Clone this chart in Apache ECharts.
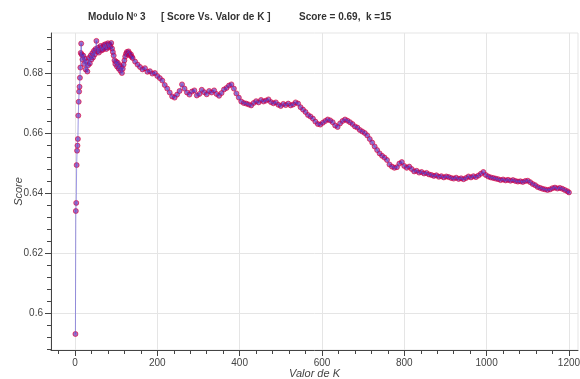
<!DOCTYPE html>
<html><head><meta charset="utf-8">
<script src="https://cdn.jsdelivr.net/npm/echarts@6/dist/echarts.min.js"></script>
<style>html,body{margin:0;padding:0;background:#fff}#c{width:580px;height:379px}</style>
</head><body><div id="c"></div>
<script>
const kValues = [1,2,3,4,5,6,7,8,9,10,11,12,13,14,15,
16,18,20,22,24,26,28,30,32,34,36,38,40,42,44,46,48,50,52,54,56,58,60,62,64,66,68,70,72,74,76,78,80,82,84,86,88,90,92,94,96,98,100,
102,104,106,108,110,112,114,116,118,120,122,124,126,128,130,132,134,136,138,140,
146,152,158,164,170,176,182,188,194,200,206,212,218,224,230,236,242,248,254,260,266,272,278,284,290,296,
302,308,314,320,326,332,338,344,350,356,362,368,374,380,386,392,398,404,410,416,422,428,434,440,446,452,458,464,470,476,482,488,494,
500,506,512,518,524,530,536,542,548,554,560,566,572,578,584,590,596,602,608,614,620,626,632,638,644,650,656,662,668,674,680,686,692,698,
704,710,716,722,728,734,740,746,752,758,764,770,776,782,788,794,800,806,812,818,824,830,836,842,848,854,860,866,872,878,884,890,896,
902,908,914,920,926,932,938,944,950,956,962,968,974,980,986,992,998,1004,1010,1016,1022,1028,1034,1040,1046,1052,1058,1064,1070,1076,
1082,1088,1094,1100,1106,1112,1118,1124,1130,1136,1142,1148,1154,1160,1166,1172,1178,1184,1190,1196,1200];
const scores = [0.593,0.634,0.6367,0.6493,0.6541,0.6558,0.658,0.6658,0.6704,0.6738,0.6754,0.6784,0.6818,0.6867,0.6898,
0.6862,0.6845,0.6858,0.6830,0.6848,0.6812,0.6838,0.6805,0.6826,0.6850,0.6832,0.6858,0.6845,0.6866,0.6852,0.6874,0.6862,0.6880,0.6907,0.6872,0.6884,0.6868,0.6879,0.6890,0.6875,0.6886,0.6878,0.6893,0.6884,0.6896,0.6880,0.6892,0.6899,0.6885,0.6895,0.6889,0.6900,0.6882,0.6870,0.6858,0.6842,0.6830,0.6838,
0.6822,0.6834,0.6815,0.6826,0.6808,0.6820,0.6800,0.6814,0.6828,0.6842,0.6855,0.6864,0.6870,0.6862,0.6872,0.6866,0.6858,0.6862,0.6854,0.6850,
0.6838,0.6828,0.6820,0.6812,0.6816,0.6804,0.6806,0.6798,0.6800,0.6790,0.6783,0.6775,0.6760,0.6748,0.6735,0.6722,0.6718,0.6728,0.6740,0.6762,0.6748,0.6735,0.6728,0.6738,0.6742,0.6725,
0.6730,0.6744,0.6736,0.6729,0.6740,0.6735,0.6742,0.6730,0.6724,0.6733,0.6745,0.6750,0.6758,0.6762,0.6748,0.6732,0.6718,0.6705,0.6700,0.6698,0.6695,0.6692,0.6700,0.6706,0.6702,0.6710,0.6705,0.6708,0.6712,0.6703,0.6699,0.6702,0.6694,
0.6690,0.6697,0.6693,0.6698,0.6692,0.6695,0.6702,0.6698,0.6686,0.6678,0.6670,0.6660,0.6655,0.6648,0.6638,0.6630,0.6628,0.6634,0.6640,0.6645,0.6642,0.6636,0.6625,0.6620,0.6632,0.6640,0.6645,0.6641,0.6636,0.6630,0.6622,0.6618,0.6610,0.6605,
0.6600,0.6592,0.6580,0.6568,0.6555,0.6543,0.6532,0.6524,0.6518,0.6510,0.6495,0.6488,0.6484,0.6486,0.6498,0.6503,0.6490,0.6484,0.6488,0.6480,0.6472,0.6474,0.6468,0.6470,0.6465,0.6467,0.6462,0.6460,0.6457,0.6459,0.6454,0.6456,0.6452,
0.6455,0.6453,0.6450,0.6448,0.6451,0.6447,0.6449,0.6446,0.6450,0.6455,0.6452,0.6456,0.6453,0.6458,0.6464,0.6470,0.6460,0.6455,0.6452,0.6450,0.6448,0.6446,0.6443,0.6445,0.6442,0.6444,0.6441,0.6443,0.6440,0.6438,
0.6439,0.6437,0.6440,0.6441,0.6436,0.6430,0.6426,0.6420,0.6417,0.6414,0.6412,0.6410,0.6412,0.6416,0.6418,0.6415,0.6417,0.6414,0.6410,0.6406,0.6402];
const xMajorTicks = [0,200,400,600,800,1000,1200];
const xMinorTicks = [-40,40,80,120,160,240,280,320,360,440,480,520,560,640,680,720,760,840,880,920,960,1040,1080,1120,1160];
const yMajorTicks = [0.6,0.62,0.64,0.66,0.68];
const yMinorTicks = [0.588,0.592,0.596,0.604,0.608,0.612,0.616,0.624,0.628,0.632,0.636,0.644,0.648,0.652,0.656,0.664,0.668,0.672,0.676,0.684,0.688,0.692];
const titleParts = ['Modulo Nº 3', '[ Score Vs. Valor de K ]', 'Score = 0.69,  k =15'];

const xMin = -58.3, xMax = 1222, yMin = 0.58767, yMax = 0.69333;
const FONT = 'Liberation Sans, Helvetica, Arial, sans-serif';
const axisColor = '#444';

function xAxisBase() {
  return {type:'value', min:xMin, max:xMax, position:'bottom', gridIndex:0};
}
function yAxisBase() {
  return {type:'value', min:yMin, max:yMax, position:'left', gridIndex:0};
}

const chart = echarts.init(document.getElementById('c'), null, {renderer:'canvas'});
chart.setOption({
  backgroundColor:'#fff',
  animation:false,
  grid:{left:51, right:2, top:33, bottom:29, outerBoundsMode:'none', containLabel:false,
        show:true, borderColor:'#e5e5e5', borderWidth:1, backgroundColor:'transparent'},
  xAxis:[
    Object.assign(xAxisBase(), {
      axisLine:{show:true, onZero:false, lineStyle:{color:axisColor, width:1}},
      axisTick:{show:true, customValues:xMajorTicks, length:6, lineStyle:{color:axisColor}},
      axisLabel:{customValues:xMajorTicks, color:'#444', fontSize:10, fontFamily:FONT, margin:8,
                 formatter:function(v){return String(v);}},
      splitLine:{show:true, lineStyle:{color:'#e5e5e5', width:1}},
      name:'Valor de K', nameLocation:'middle', nameGap:18, nameMoveOverlap:false,
      nameTextStyle:{fontStyle:'italic', fontSize:11, color:'#444', fontFamily:FONT}
    }),
    Object.assign(xAxisBase(), {
      axisLine:{show:false, onZero:false},
      axisTick:{show:true, customValues:xMinorTicks, length:4, lineStyle:{color:axisColor}},
      axisLabel:{show:false}, splitLine:{show:false}
    })
  ],
  yAxis:[
    Object.assign(yAxisBase(), {
      axisLine:{show:true, onZero:false, lineStyle:{color:axisColor, width:1}},
      axisTick:{show:true, customValues:yMajorTicks, length:6, lineStyle:{color:axisColor}},
      axisLabel:{customValues:yMajorTicks, color:'#444', fontSize:10, fontFamily:FONT, margin:8,
                 formatter:function(v){return String(+v.toFixed(2));}},
      splitLine:{show:true, lineStyle:{color:'#e5e5e5', width:1}},
      name:'Score', nameLocation:'middle', nameGap:27, nameRotate:90, nameMoveOverlap:false,
      nameTextStyle:{fontStyle:'italic', fontSize:11, color:'#444', fontFamily:FONT}
    }),
    Object.assign(yAxisBase(), {
      axisLine:{show:false, onZero:false},
      axisTick:{show:true, customValues:yMinorTicks, length:4, lineStyle:{color:axisColor}},
      axisLabel:{show:false}, splitLine:{show:false}
    })
  ],
  graphic:[
    {type:'text', left:88, top:12, style:{text:titleParts[0], font:'bold 10px '+FONT, fill:'#333'}},
    {type:'text', left:161, top:12, style:{text:titleParts[1], font:'bold 10px '+FONT, fill:'#333'}},
    {type:'text', left:299, top:12, style:{text:titleParts[2], font:'bold 10px '+FONT, fill:'#333'}}
  ],
  series:[
    {type:'line', xAxisIndex:0, yAxisIndex:0, showSymbol:false, silent:true,
     lineStyle:{color:'rgba(90,80,210,0.6)', width:1},
     data:kValues.map((k,i)=>[k,scores[i]])},
    {type:'scatter', xAxisIndex:0, yAxisIndex:0, symbol:'circle', symbolSize:5, silent:true,
     itemStyle:{color:'rgba(90,20,170,0.75)', borderColor:'rgba(230,0,50,0.8)', borderWidth:1},
     data:kValues.map((k,i)=>[k,scores[i]])}
  ]
});
</script></body></html>
